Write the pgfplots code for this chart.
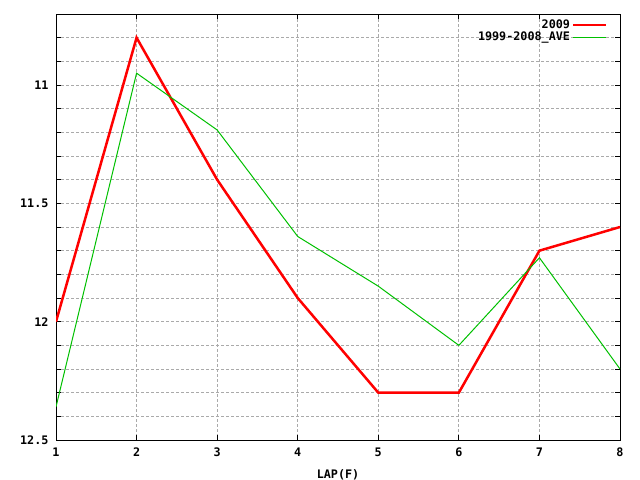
\documentclass[border=0pt]{standalone}
\usepackage{fontspec}
\setmonofont{DejaVu Sans Mono}
\usepackage{pgfplots}
\pgfplotsset{compat=1.18}
\definecolor{gpred}{RGB}{255,0,0}
\definecolor{gpgreen}{RGB}{0,192,0}
\definecolor{gridgray}{RGB}{170,170,170}
\newcommand{\gpfont}{\fontsize{11.8}{12}\selectfont\ttfamily\bfseries}

\begin{document}
\begin{tikzpicture}
\useasboundingbox (0,0) rectangle (640bp,480bp);
\begin{axis}[
  at={(56bp,40bp)}, anchor=south west,
  scale only axis, width=564bp, height=426bp,
  xmin=1, xmax=8, ymin=10.7, ymax=12.5, y dir=reverse,
  xtick={1,...,8}, ytick={11,11.5,12,12.5},
  minor ytick={10.8,10.9,11.1,11.2,11.3,11.4,11.6,11.7,11.8,11.9,12.1,12.2,12.3,12.4},
  grid=both,
  major grid style={gridgray, line width=0.8bp, dash pattern=on 2.5bp off 2.5bp},
  minor grid style={gridgray, line width=0.8bp, dash pattern=on 2.5bp off 2.5bp},
  tick align=inside,
  major tick length=5bp, minor tick length=5bp,
  every tick/.style={black, line width=0.8bp},
  axis line style={black, line width=1bp},
  ticklabel style={font=\gpfont},
  yticklabel style={xshift=-4bp},
  xticklabel style={yshift=-4bp},
  /pgf/number format/assume math mode=true,
  xlabel={LAP(F)},
  label style={font=\gpfont},
  xlabel style={yshift=-6bp},
  legend style={at={(0.9835,0.996)}, anchor=north east, draw=none, fill=none,
    font=\gpfont, cells={anchor=east}, row sep=-2bp},
  legend plot pos=right,
  legend image code/.code={\draw[#1] (7bp,0bp) -- (40bp,0bp);},
]
\addplot[gpred, line width=2.5bp] coordinates {
  (1,12.0) (2,10.8) (3,11.4) (4,11.9) (5,12.3) (6,12.3) (7,11.7) (8,11.6)
};
\addlegendentry{2009}
\addplot[gpgreen, line width=1bp] coordinates {
  (1,12.36) (2,10.95) (3,11.19) (4,11.64) (5,11.85) (6,12.1) (7,11.73) (8,12.2)
};
\addlegendentry{1999-2008\_AVE}
\end{axis}
\end{tikzpicture}
\end{document}
